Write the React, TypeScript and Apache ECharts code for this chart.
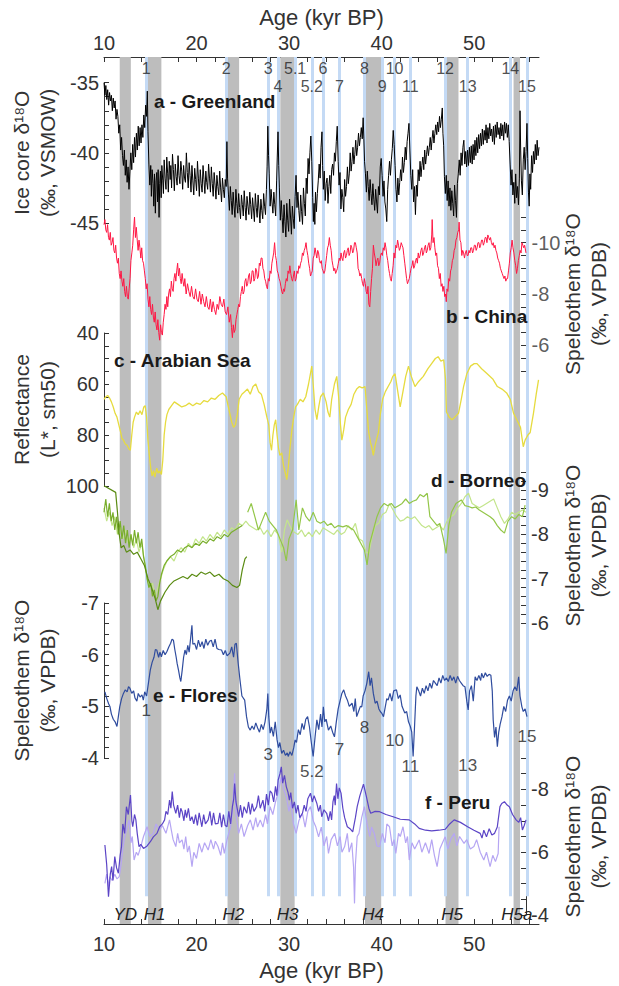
import { useEffect, useRef } from 'react';
import * as echarts from 'echarts';

const FONT = '"Liberation Sans", Arial, Helvetica, sans-serif';
const AGE_MIN = 10;
const AGE_MAX = 57;

// x-axis ticks / labels
const ageTicks = [10, 12, 14, 16, 18, 20, 22, 24, 26, 28, 30, 32, 34, 36, 38, 40, 42, 44, 46, 48, 50, 52, 54, 56];
const ageLabels = [10, 20, 30, 40, 50];

// Heinrich / YD bands
const bandNames = ['YD', 'H1', 'H2', 'H3', 'H4', 'H5', 'H5a'];
const bandFrom = [11.7, 14.75, 23.35, 29.05, 38.2, 46.9, 54.25];
const bandTo = [12.9, 16.2, 24.6, 30.6, 39.95, 48.3, 54.95];

// Greenland interstadial lines
const giNames = ['1', '2', '3', '4', '5.1', '5.2', '6', '7', '8', '9', '10', '11', '12', '13', '14', '15'];
const giAges = [14.55, 23.2, 27.75, 28.8, 30.65, 32.45, 33.65, 35.45, 38.15, 40.05, 41.4, 43.1, 46.85, 49.3, 53.9, 55.7];
const giRow = [0, 0, 0, 1, 0, 1, 0, 1, 0, 1, 0, 1, 0, 1, 0, 1];

// Flores annotations
const floresNoteNames = ['1', '3', '5.2', '7', '8', '10', '11', '13', '15'];
const floresNoteAges = [14.55, 27.75, 32.45, 35.45, 38.15, 41.4, 43.1, 49.3, 55.7];
const floresNoteVals = [-4.92, -4.06, -3.74, -4.16, -4.6, -4.33, -3.83, -3.86, -4.41];

// axis ticks
const greenlandTicks = [-45, -44, -43, -42, -41, -40, -39, -38, -37, -36, -35];
const greenlandLabels = [-45, -40, -35];
const chinaTicks = [-11, -10.5, -10, -9.5, -9, -8.5, -8, -7.5, -7, -6.5, -6, -5.5, -5];
const chinaLabels = [-10, -8, -6];
const arabTicks = [40, 45, 50, 55, 60, 65, 70, 75, 80, 85, 90, 95, 100];
const arabLabels = [40, 60, 80, 100];
const borneoTicks = [-9.4, -9.2, -9, -8.8, -8.6, -8.4, -8.2, -8, -7.8, -7.6, -7.4, -7.2, -7, -6.8, -6.6, -6.4, -6.2, -6];
const borneoLabels = [-9, -8, -7, -6];
const floresTicks = [-7, -6.8, -6.6, -6.4, -6.2, -6, -5.8, -5.6, -5.4, -5.2, -5, -4.8, -4.6, -4.4, -4.2, -4];
const floresLabels = [-7, -6, -5, -4];
const peruTicks = [-9, -8.5, -8, -7.5, -7, -6.5, -6, -5.5, -5, -4.5, -4];
const peruLabels = [-8, -6, -4];

const greenland: [number, number][] = [
  [10.0,-35.0],[10.1,-35.9],[10.2,-35.2],[10.3,-36.2],[10.4,-35.5],[10.5,-36.6],[10.6,-35.7],[10.7,-36.3],[10.8,-35.9],[10.9,-37.0],
  [11.0,-36.1],[11.1,-36.8],[11.2,-36.3],[11.3,-37.6],[11.4,-36.9],[11.5,-37.4],[11.6,-38.6],[11.7,-38.0],[11.8,-39.8],[11.9,-38.9],
  [12.0,-40.2],[12.1,-40.9],[12.2,-39.8],[12.3,-41.6],[12.4,-40.5],[12.5,-42.1],[12.6,-41.0],[12.7,-42.6],[12.8,-41.3],[12.9,-40.0],
  [13.0,-41.2],[13.1,-39.4],[13.2,-40.7],[13.3,-38.9],[13.4,-40.3],[13.5,-38.6],[13.6,-39.8],[13.7,-38.1],[13.8,-39.5],[13.9,-38.2],
  [14.0,-39.3],[14.1,-38.0],[14.2,-38.9],[14.3,-37.3],[14.4,-38.2],[14.5,-36.6],[14.6,-37.4],[14.68,-35.6],[14.75,-38.5],[14.85,-40.8],
  [14.95,-42.3],[15.05,-40.9],[15.12,-43.1],[15.2,-41.2],[15.3,-42.2],[15.38,-43.8],[15.45,-41.5],[15.55,-44.3],[15.62,-42.0],[15.7,-41.4],
  [15.78,-43.5],[15.85,-41.2],[15.95,-44.6],[16.02,-42.2],[16.1,-41.3],[16.18,-43.2],[16.25,-40.9],[16.35,-42.0],[16.42,-42.9],[16.5,-40.5],
  [16.6,-41.8],[16.7,-42.6],[16.78,-40.3],[16.88,-41.5],[16.95,-42.8],[17.05,-40.6],[17.15,-41.9],[17.22,-40.9],[17.3,-42.5],[17.4,-40.1],
  [17.5,-41.2],[17.6,-42.7],[17.7,-40.8],[17.8,-41.7],[17.9,-42.3],[18.0,-40.2],[18.1,-41.6],[18.2,-42.2],[18.3,-40.6],[18.4,-41.3],
  [18.5,-42.6],[18.6,-40.9],[18.7,-41.8],[18.8,-42.1],[18.9,-40.0],[19.0,-41.4],[19.1,-42.5],[19.2,-40.7],[19.3,-41.6],[19.4,-42.8],
  [19.5,-40.9],[19.6,-42.0],[19.7,-43.0],[19.8,-41.1],[19.9,-41.9],[20.0,-42.7],[20.1,-40.6],[20.2,-41.8],[20.3,-43.1],[20.4,-41.2],
  [20.5,-42.2],[20.6,-42.8],[20.7,-40.9],[20.8,-41.9],[20.9,-42.9],[21.0,-41.3],[21.1,-42.1],[21.2,-42.6],[21.3,-40.8],[21.4,-41.8],
  [21.5,-42.8],[21.6,-41.0],[21.7,-42.2],[21.8,-43.1],[21.9,-41.4],[22.0,-42.3],[22.1,-43.3],[22.2,-41.6],[22.3,-42.4],[22.4,-43.0],
  [22.5,-41.3],[22.6,-42.5],[22.7,-43.5],[22.8,-41.8],[22.9,-42.6],[23.0,-43.2],[23.1,-41.9],[23.2,-42.4],[23.28,-39.2],[23.35,-41.8],
  [23.45,-43.0],[23.55,-44.1],[23.65,-42.4],[23.75,-43.4],[23.85,-44.4],[23.95,-42.8],[24.05,-43.8],[24.15,-44.6],[24.25,-42.6],[24.35,-43.6],
  [24.45,-44.3],[24.55,-42.9],[24.65,-43.9],[24.75,-44.7],[24.85,-43.0],[24.95,-43.7],[25.05,-44.5],[25.15,-42.7],[25.25,-43.9],[25.35,-44.8],
  [25.45,-43.1],[25.55,-43.8],[25.65,-44.4],[25.75,-42.8],[25.85,-43.7],[25.95,-44.7],[26.05,-43.2],[26.15,-44.0],[26.25,-44.9],[26.35,-42.9],
  [26.45,-43.9],[26.55,-44.6],[26.65,-43.0],[26.75,-44.0],[26.85,-45.0],[26.95,-43.3],[27.05,-44.1],[27.15,-44.7],[27.25,-42.9],[27.35,-43.8],
  [27.45,-44.4],[27.55,-42.6],[27.62,-41.0],[27.7,-38.1],[27.78,-40.2],[27.85,-41.5],[27.95,-43.8],[28.05,-42.6],[28.15,-43.5],[28.25,-44.3],
  [28.35,-42.8],[28.45,-43.7],[28.55,-44.5],[28.65,-42.0],[28.72,-40.3],[28.8,-38.5],[28.88,-40.9],[28.95,-42.5],[29.05,-44.8],[29.15,-43.4],
  [29.25,-44.6],[29.35,-45.7],[29.45,-43.7],[29.55,-44.9],[29.65,-46.0],[29.75,-43.6],[29.85,-44.8],[29.95,-45.6],[30.05,-43.3],[30.15,-44.5],
  [30.25,-45.8],[30.35,-43.8],[30.45,-44.7],[30.55,-45.4],[30.65,-43.1],[30.75,-41.6],[30.85,-43.9],[30.95,-42.8],[31.05,-44.1],[31.15,-44.9],
  [31.25,-43.0],[31.35,-44.2],[31.45,-45.1],[31.55,-42.5],[31.65,-43.6],[31.75,-44.5],[31.85,-41.8],[31.95,-42.9],[32.05,-40.4],[32.15,-41.5],
  [32.25,-40.0],[32.35,-38.8],[32.45,-40.6],[32.55,-43.2],[32.62,-44.9],[32.7,-43.6],[32.78,-45.1],[32.85,-42.8],[32.95,-44.2],[33.05,-42.9],
  [33.15,-42.0],[33.25,-40.8],[33.35,-41.8],[33.45,-39.6],[33.55,-38.5],[33.62,-40.9],[33.7,-42.6],[33.8,-41.3],[33.9,-43.4],[34.0,-42.2],
  [34.1,-41.8],[34.2,-43.6],[34.3,-42.4],[34.4,-41.6],[34.5,-42.9],[34.6,-41.2],[34.7,-40.8],[34.8,-41.6],[34.9,-40.0],[35.0,-40.6],
  [35.1,-39.2],[35.2,-38.1],[35.3,-40.6],[35.4,-42.3],[35.5,-41.4],[35.6,-44.0],[35.7,-42.6],[35.8,-43.2],[35.9,-44.2],[36.0,-41.9],
  [36.1,-43.1],[36.2,-42.4],[36.3,-41.0],[36.4,-42.2],[36.5,-41.5],[36.6,-40.0],[36.7,-41.3],[36.8,-40.6],[36.9,-39.6],[37.0,-40.8],
  [37.1,-40.1],[37.2,-39.1],[37.3,-40.2],[37.4,-39.6],[37.5,-38.6],[37.6,-39.5],[37.7,-38.9],[37.8,-38.2],[37.9,-39.0],[38.0,-37.5],
  [38.08,-39.0],[38.15,-40.6],[38.25,-41.5],[38.35,-42.8],[38.45,-41.3],[38.55,-42.4],[38.65,-43.4],[38.75,-41.9],[38.85,-42.9],[38.95,-43.7],
  [39.05,-42.2],[39.15,-43.3],[39.25,-44.1],[39.35,-42.6],[39.45,-43.5],[39.55,-44.3],[39.65,-42.4],[39.75,-43.0],[39.85,-41.0],[39.95,-40.4],
  [40.05,-41.6],[40.15,-43.1],[40.25,-42.0],[40.35,-43.5],[40.45,-44.0],[40.55,-44.9],[40.65,-42.6],[40.75,-41.6],[40.85,-40.6],[40.95,-41.6],
  [41.05,-40.5],[41.15,-39.7],[41.25,-38.4],[41.35,-39.4],[41.45,-40.9],[41.55,-42.6],[41.65,-43.5],[41.75,-41.8],[41.85,-43.0],[41.95,-42.1],
  [42.05,-41.2],[42.15,-42.0],[42.25,-40.3],[42.35,-41.4],[42.45,-40.7],[42.55,-39.6],[42.65,-40.5],[42.75,-39.2],[42.85,-38.6],[42.95,-37.9],
  [43.05,-39.8],[43.15,-41.6],[43.25,-42.6],[43.35,-41.2],[43.45,-43.5],[43.55,-42.4],[43.65,-44.4],[43.75,-42.3],[43.85,-43.1],[43.95,-41.2],
  [44.05,-42.0],[44.15,-40.6],[44.25,-41.7],[44.35,-40.9],[44.45,-40.3],[44.55,-41.2],[44.65,-39.8],[44.75,-40.8],[44.85,-40.1],[44.95,-39.5],
  [45.05,-40.2],[45.15,-39.6],[45.25,-38.9],[45.35,-39.8],[45.45,-39.0],[45.55,-38.4],[45.65,-39.3],[45.75,-38.6],[45.85,-38.0],[45.95,-38.7],
  [46.05,-37.8],[46.15,-38.5],[46.25,-37.4],[46.35,-38.2],[46.45,-37.6],[46.55,-36.8],[46.62,-38.6],[46.7,-39.5],[46.78,-41.7],[46.88,-42.9],
  [46.98,-41.6],[47.08,-43.4],[47.18,-42.0],[47.28,-43.8],[47.38,-42.5],[47.48,-44.1],[47.58,-42.7],[47.68,-43.6],[47.78,-44.5],[47.88,-42.3],
  [47.98,-43.4],[48.08,-44.6],[48.18,-42.2],[48.28,-41.5],[48.38,-40.5],[48.48,-41.6],[48.58,-40.0],[48.68,-40.9],[48.78,-39.6],[48.88,-39.1],
  [48.98,-40.8],[49.08,-39.9],[49.18,-41.0],[49.28,-39.8],[49.38,-40.9],[49.48,-39.6],[49.58,-40.7],[49.68,-39.5],[49.78,-40.8],[49.88,-39.4],
  [49.98,-40.5],[50.08,-39.1],[50.18,-40.2],[50.28,-38.9],[50.38,-40.0],[50.48,-38.7],[50.58,-39.7],[50.68,-38.6],[50.78,-39.5],[50.88,-38.3],
  [50.98,-39.4],[51.08,-38.4],[51.18,-39.1],[51.28,-38.0],[51.38,-39.3],[51.48,-38.2],[51.58,-39.0],[51.68,-37.9],[51.78,-38.8],[51.88,-38.3],
  [51.98,-39.2],[52.08,-38.1],[52.18,-39.4],[52.28,-38.0],[52.38,-38.9],[52.48,-37.8],[52.58,-38.7],[52.68,-38.2],[52.78,-39.0],[52.88,-37.9],
  [52.98,-38.8],[53.08,-38.0],[53.18,-39.1],[53.28,-37.8],[53.38,-38.6],[53.48,-37.9],[53.58,-38.9],[53.68,-38.0],[53.78,-39.2],[53.88,-40.8],
  [53.98,-42.3],[54.08,-41.2],[54.18,-43.0],[54.28,-42.1],[54.38,-43.6],[54.48,-41.5],[54.58,-43.2],[54.68,-42.4],[54.78,-43.7],[54.88,-41.8],
  [54.95,-37.0],[55.02,-39.8],[55.1,-42.0],[55.2,-43.0],[55.3,-40.5],[55.4,-39.6],[55.5,-41.2],[55.6,-39.9],[55.7,-37.9],[55.78,-40.4],
  [55.86,-42.8],[55.94,-43.8],[56.02,-41.5],[56.1,-42.6],[56.2,-40.2],[56.3,-41.4],[56.4,-39.9],[56.5,-40.8],[56.6,-39.4],[56.7,-40.5],
  [56.8,-39.1],[56.9,-40.2],[57.0,-39.6]
];

const china: [number, number][] = [
  [10.0,-10.7],[10.1,-10.9],[10.2,-10.5],[10.3,-10.4],[10.4,-10.7],[10.5,-10.2],[10.6,-10.1],[10.7,-10.4],[10.8,-9.9],[10.9,-10.0],
  [11.0,-10.2],[11.1,-9.7],[11.2,-9.6],[11.3,-9.9],[11.4,-9.4],[11.5,-9.2],[11.6,-9.4],[11.7,-8.8],[11.8,-8.6],[11.9,-8.9],
  [12.0,-8.5],[12.1,-8.3],[12.2,-8.6],[12.3,-8.1],[12.4,-7.9],[12.5,-8.3],[12.6,-7.9],[12.7,-7.8],[12.8,-8.2],[12.9,-8.6],
  [13.0,-9.3],[13.1,-9.6],[13.2,-9.9],[13.3,-10.5],[13.4,-11.0],[13.5,-10.2],[13.6,-10.6],[13.7,-10.1],[13.8,-9.7],[13.9,-10.1],
  [14.0,-9.8],[14.1,-9.4],[14.2,-9.8],[14.3,-9.3],[14.4,-9.2],[14.5,-8.9],[14.6,-8.6],[14.7,-8.2],[14.8,-8.4],[14.9,-7.8],
  [15.0,-7.5],[15.1,-7.9],[15.2,-7.4],[15.3,-7.2],[15.4,-7.6],[15.5,-7.1],[15.6,-6.9],[15.7,-7.3],[15.8,-6.8],[15.9,-6.6],
  [16.0,-7.0],[16.1,-6.5],[16.2,-6.2],[16.3,-6.8],[16.4,-6.5],[16.5,-6.4],[16.6,-6.9],[16.7,-7.2],[16.8,-7.6],[16.9,-7.4],
  [17.0,-7.9],[17.1,-7.5],[17.2,-8.0],[17.3,-8.2],[17.4,-7.9],[17.5,-8.5],[17.6,-8.2],[17.7,-8.1],[17.8,-8.6],[17.9,-8.8],
  [18.0,-8.5],[18.1,-8.9],[18.2,-9.2],[18.3,-8.7],[18.4,-9.0],[18.5,-8.6],[18.6,-8.4],[18.7,-8.8],[18.8,-8.5],[18.9,-8.3],
  [19.0,-8.6],[19.15,-8.0],[19.3,-8.4],[19.45,-8.1],[19.6,-7.9],[19.75,-8.3],[19.9,-7.9],[20.05,-7.8],[20.2,-8.2],[20.35,-7.8],
  [20.5,-7.7],[20.65,-8.1],[20.8,-7.6],[20.95,-8.0],[21.1,-7.7],[21.25,-7.5],[21.4,-7.9],[21.55,-7.5],[21.7,-7.4],[21.85,-7.8],
  [22.0,-7.3],[22.15,-7.7],[22.3,-7.4],[22.45,-7.2],[22.6,-7.6],[22.75,-7.4],[22.9,-7.9],[23.05,-7.6],[23.2,-7.5],[23.35,-7.8],
  [23.5,-7.3],[23.65,-7.2],[23.8,-7.5],[23.95,-6.9],[24.1,-7.2],[24.2,-6.7],[24.3,-6.3],[24.4,-6.8],[24.5,-6.5],[24.6,-6.6],
  [24.7,-7.0],[24.8,-7.2],[24.9,-7.4],[25.0,-7.6],[25.1,-7.5],[25.2,-7.9],[25.3,-8.1],[25.4,-8.3],[25.5,-8.0],[25.6,-8.1],
  [25.7,-8.5],[25.8,-8.6],[25.9,-8.3],[26.0,-8.4],[26.1,-8.7],[26.2,-8.8],[26.3,-8.4],[26.4,-8.5],[26.5,-8.9],[26.6,-8.9],
  [26.7,-8.5],[26.8,-8.6],[26.9,-9.0],[27.0,-8.9],[27.1,-8.6],[27.2,-8.7],[27.3,-9.2],[27.4,-9.1],[27.5,-9.4],[27.6,-9.4],
  [27.7,-9.0],[27.8,-8.9],[27.9,-8.6],[28.0,-8.5],[28.1,-8.3],[28.2,-8.2],[28.3,-8.6],[28.4,-8.5],[28.5,-8.9],[28.6,-8.8],
  [28.7,-9.2],[28.8,-9.4],[28.9,-9.6],[29.0,-10.0],[29.1,-9.5],[29.2,-9.3],[29.3,-8.9],[29.4,-8.8],[29.5,-8.6],[29.6,-8.5],
  [29.7,-8.3],[29.8,-8.1],[29.9,-8.0],[30.0,-8.2],[30.1,-8.1],[30.2,-8.4],[30.3,-8.6],[30.4,-8.5],[30.5,-8.9],[30.6,-8.8],
  [30.7,-9.1],[30.8,-8.8],[30.9,-8.6],[31.0,-8.5],[31.1,-8.7],[31.2,-8.9],[31.3,-8.5],[31.4,-8.6],[31.5,-8.9],[31.6,-8.8],
  [31.7,-9.1],[31.8,-9.0],[31.9,-9.2],[32.0,-9.3],[32.1,-9.6],[32.2,-9.5],[32.3,-9.7],[32.4,-9.8],[32.5,-10.0],[32.6,-9.7],
  [32.7,-9.5],[32.8,-9.2],[32.9,-9.0],[33.0,-8.7],[33.1,-8.8],[33.2,-8.9],[33.3,-9.4],[33.4,-9.5],[33.5,-9.8],[33.6,-9.6],
  [33.7,-9.4],[33.8,-9.7],[33.9,-9.6],[34.0,-9.3],[34.1,-9.2],[34.2,-9.3],[34.3,-9.0],[34.4,-8.9],[34.5,-8.8],[34.6,-8.9],
  [34.7,-9.2],[34.8,-9.5],[34.9,-9.8],[35.0,-9.9],[35.1,-10.2],[35.2,-9.9],[35.3,-9.7],[35.4,-9.3],[35.5,-9.1],[35.6,-8.9],
  [35.7,-9.0],[35.8,-8.8],[35.9,-8.9],[36.0,-9.0],[36.1,-9.2],[36.2,-9.4],[36.3,-9.3],[36.4,-9.6],[36.5,-9.4],[36.6,-9.3],
  [36.7,-9.6],[36.8,-9.7],[36.9,-9.4],[37.0,-9.5],[37.1,-9.7],[37.2,-9.8],[37.3,-9.5],[37.4,-9.6],[37.5,-9.9],[37.6,-9.8],
  [37.7,-9.6],[37.8,-9.7],[37.9,-10.0],[38.0,-10.0],[38.1,-9.8],[38.2,-9.6],[38.3,-9.0],[38.4,-8.9],[38.5,-8.7],[38.6,-8.8],
  [38.7,-8.6],[38.8,-8.4],[38.9,-8.3],[39.0,-8.6],[39.1,-8.4],[39.2,-8.1],[39.3,-8.0],[39.4,-8.3],[39.5,-7.6],[39.6,-7.5],
  [39.7,-8.1],[39.8,-8.6],[39.9,-9.0],[40.0,-9.9],[40.1,-9.6],[40.2,-9.4],[40.3,-9.1],[40.4,-9.3],[40.5,-9.4],[40.6,-9.1],
  [40.7,-9.2],[40.8,-9.5],[40.9,-9.6],[41.0,-9.5],[41.1,-9.8],[41.2,-9.7],[41.3,-10.0],[41.4,-9.8],[41.5,-9.5],[41.6,-9.3],
  [41.7,-9.0],[41.8,-8.8],[41.9,-8.6],[42.0,-8.5],[42.1,-8.8],[42.2,-9.1],[42.3,-9.6],[42.4,-9.4],[42.5,-9.9],[42.6,-9.8],
  [42.7,-10.1],[42.8,-9.9],[42.9,-9.7],[43.0,-9.8],[43.1,-10.0],[43.2,-9.9],[43.3,-9.8],[43.4,-9.5],[43.5,-9.2],[43.6,-8.9],
  [43.7,-8.6],[43.8,-8.4],[43.9,-8.5],[44.0,-8.6],[44.1,-8.8],[44.2,-9.0],[44.3,-9.1],[44.4,-9.3],[44.5,-9.0],[44.6,-9.1],
  [44.7,-9.3],[44.8,-9.4],[44.9,-9.2],[45.0,-9.6],[45.1,-9.4],[45.2,-9.5],[45.3,-9.7],[45.4,-9.8],[45.5,-9.5],[45.6,-9.6],
  [45.7,-9.8],[45.8,-9.9],[45.9,-9.6],[46.0,-9.7],[46.1,-9.9],[46.2,-10.0],[46.3,-9.7],[46.4,-9.8],[46.5,-10.3],[46.55,-10.9],
  [46.65,-10.0],[46.75,-10.2],[46.85,-9.8],[46.95,-9.5],[47.05,-9.6],[47.15,-9.1],[47.25,-9.0],[47.35,-8.6],[47.45,-8.8],[47.55,-8.3],
  [47.65,-8.4],[47.75,-8.1],[47.85,-8.3],[47.95,-7.9],[48.05,-8.0],[48.12,-7.7],[48.2,-8.2],[48.3,-8.1],[48.4,-8.6],[48.5,-8.5],
  [48.6,-8.9],[48.7,-9.0],[48.8,-9.3],[48.9,-9.4],[49.0,-9.7],[49.1,-9.8],[49.2,-10.1],[49.3,-10.2],[49.4,-10.4],[49.5,-10.5],
  [49.55,-10.8],[49.65,-10.1],[49.75,-10.0],[49.85,-9.5],[49.95,-9.7],[50.05,-9.6],[50.15,-9.4],[50.25,-9.6],[50.35,-9.7],[50.45,-9.5],
  [50.55,-9.5],[50.65,-9.7],[50.75,-9.6],[50.85,-9.8],[50.95,-9.8],[51.05,-9.6],[51.15,-9.7],[51.25,-9.9],[51.35,-9.9],[51.45,-9.7],
  [51.55,-9.8],[51.65,-10.0],[51.75,-10.0],[51.85,-9.8],[51.95,-9.9],[52.05,-10.1],[52.15,-10.1],[52.25,-9.9],[52.35,-10.0],[52.45,-10.2],
  [52.55,-10.2],[52.65,-10.0],[52.75,-10.3],[52.85,-10.2],[52.95,-10.1],[53.05,-10.2],[53.15,-10.0],[53.25,-9.9],[53.35,-10.0],[53.45,-9.8],
  [53.55,-9.9],[53.65,-9.7],[53.75,-9.6],[53.85,-9.4],[53.95,-9.3],[54.05,-9.2],[54.15,-9.0],[54.25,-8.9],[54.35,-8.8],[54.45,-8.7],
  [54.55,-8.6],[54.65,-8.7],[54.75,-8.5],[54.85,-8.6],[54.95,-8.6],[55.05,-8.9],[55.15,-9.2],[55.25,-9.6],[55.35,-9.8],[55.45,-10.1],
  [55.55,-9.8],[55.65,-9.6],[55.75,-9.3],[55.85,-9.1],[55.95,-8.8],[56.05,-9.0],[56.15,-9.3],[56.25,-9.5],[56.35,-9.7],[56.45,-9.6],
  [56.55,-10.0],[56.65,-9.9],[56.75,-9.8],[56.85,-9.9],[57.0,-9.6]
];

const arabian: [number, number][] = [
  [10.0,66],[10.2,65],[10.4,64.5],[10.6,65.5],[10.8,67],[11.0,69],[11.2,71.5],[11.4,73],[11.6,76],[11.8,79],
  [11.95,81.5],[12.1,82],[12.3,83.5],[12.5,84],[12.7,85.5],[12.85,86],[13.0,80],[13.15,75],[13.3,73],[13.5,71],
  [13.7,72],[13.9,70.5],[14.1,72],[14.3,69],[14.45,68.5],[14.6,73],[14.75,82],[14.9,88],[15.05,93],[15.2,96],
  [15.35,94],[15.5,96.5],[15.7,93],[15.85,95],[16.0,94],[16.2,95.5],[16.35,90],[16.5,80],[16.65,75],[16.8,72],
  [17.0,70],[17.3,68.5],[17.6,67],[18.0,68],[18.4,69],[18.8,68.5],[19.2,67.5],[19.6,68.5],[20.0,67.5],[20.4,68],
  [20.8,66.5],[21.2,67],[21.6,65.5],[22.0,66],[22.4,64.5],[22.8,63.5],[23.2,65],[23.5,70],[23.8,75],[24.0,77],
  [24.2,76],[24.4,72],[24.6,66],[24.9,64],[25.2,63],[25.5,62],[25.8,64],[26.1,61],[26.4,60],[26.7,63],
  [27.0,64],[27.3,68],[27.6,73],[27.8,76],[27.95,83],[28.1,86],[28.25,80],[28.4,76],[28.55,74],[28.7,80],
  [28.85,85],[29.0,88],[29.2,87],[29.4,92],[29.6,95],[29.75,97.5],[29.9,93],[30.1,85],[30.3,78],[30.5,73],
  [30.7,69],[30.9,68],[31.2,66],[31.5,67],[31.8,65],[32.1,60],[32.3,56],[32.45,53],[32.6,60],[32.8,70],
  [33.0,74],[33.2,69],[33.4,65],[33.7,63.5],[34.0,67],[34.2,71],[34.4,73],[34.6,66],[34.9,60],[35.15,57],
  [35.35,65],[35.55,76],[35.7,82],[35.9,78],[36.1,73],[36.4,70],[36.7,68],[37.0,64],[37.3,62],[37.6,61],
  [37.9,61.5],[38.2,61],[38.4,70],[38.6,79],[38.8,83],[38.95,85],[39.1,88],[39.3,84],[39.5,81],[39.65,79],
  [39.85,72],[40.1,66],[40.4,63],[40.7,61],[41.0,59],[41.2,57],[41.45,56],[41.7,62],[42.0,69],[42.3,63],
  [42.6,57],[42.9,53],[43.2,57],[43.6,61],[44.0,59],[44.5,57],[45.0,54],[45.4,52],[45.8,50],[46.1,49.3],
  [46.4,51],[46.7,50.5],[46.9,58],[47.0,71],[47.3,73],[47.6,74],[47.9,73],[48.3,71.5],[48.6,66],[48.85,61],
  [49.2,56],[49.6,53],[50.0,52],[50.3,52],[50.8,54],[51.4,56],[52.0,58],[52.5,61],[53.0,62],[53.5,63.5],
  [53.9,66],[54.25,71.5],[54.6,74],[55.0,77],[55.3,84.6],[55.5,82],[55.8,80],[56.05,79],[56.4,71.5],[56.7,64],[56.95,58.4]
];

const borneoDark: [number, number][] = [
  [10.0,-9.1],[11.3,-8.95],[11.5,-8.5],[11.7,-8.0],[11.9,-7.7],[12.2,-7.75],[12.5,-7.6],[12.9,-7.65],[13.3,-7.55],[13.7,-7.6],
  [14.1,-7.45],[14.5,-7.3],[14.9,-7.0],[15.3,-6.8],[15.7,-6.55],[16.0,-6.3],[16.3,-6.5],[16.8,-6.7],[17.3,-6.85],[17.8,-6.95],
  [18.3,-7.0],[18.8,-7.05],[19.3,-7.0],[19.8,-7.1],[20.3,-7.05],[20.8,-7.15],[21.3,-7.1],[21.8,-7.15],[22.3,-7.05],[22.8,-7.1],
  [23.3,-7.0],[23.8,-6.95],[24.3,-6.85],[24.8,-6.8],[25.1,-6.85],[25.4,-7.2],[25.7,-7.45],[25.9,-7.5]
];

const borneoMid: [number, number][] = [
  [10.0,-8.5],[10.2,-8.8],[10.4,-8.4],[10.6,-8.7],[10.8,-8.3],[11.0,-8.5],[11.2,-8.1],[11.4,-8.4],[11.6,-8.0],[11.8,-8.3],
  [12.0,-7.9],[12.2,-8.2],[12.4,-7.8],[12.6,-8.1],[12.8,-7.7],[13.0,-8.0],[13.2,-7.75],[13.4,-8.1],[13.6,-7.8],[13.8,-8.05],
  [14.0,-7.7],[14.2,-7.9],[14.4,-7.5],[14.6,-7.3],[14.8,-7.0],[15.0,-6.8],[15.2,-6.9],[15.4,-6.6],[15.6,-6.75],[15.8,-6.5],
  [16.0,-6.6],[16.2,-6.9],[16.4,-7.1],[16.7,-7.3],[17.0,-7.4],[17.4,-7.5],[17.8,-7.55],[18.2,-7.65],[18.6,-7.6],[19.0,-7.7],
  [19.4,-7.75],[19.8,-7.7],[20.2,-7.8],[20.6,-7.75],[21.0,-7.85],[21.4,-7.8],[21.8,-7.9],[22.2,-7.85],[22.6,-7.95],[23.0,-7.9],
  [23.4,-8.0],[23.8,-7.95],[24.2,-8.05],[24.6,-8.1],[25.0,-8.15],[25.4,-8.2]
];

const borneoLight: [number, number][] = [
  [10.0,-8.6],[10.3,-8.3],[10.6,-8.5],[10.9,-8.2],[11.2,-8.4],[11.5,-8.0],[11.8,-8.2],[12.1,-7.9],[12.4,-8.1],[12.7,-7.8],
  [13.0,-8.0],[13.3,-7.7],[13.6,-7.9],[13.9,-7.6],[14.2,-7.8],[14.5,-7.4],[14.8,-7.0],[15.1,-6.8],[15.4,-6.9],[15.7,-6.6],
  [16.0,-6.8],[16.3,-7.0],[16.6,-7.2],[17.0,-7.4],[17.4,-7.5],[17.8,-7.4],[18.2,-7.6],[18.6,-7.7],[19.0,-7.6],[19.4,-7.8],
  [19.8,-7.7],[20.2,-7.9],[20.6,-7.8],[21.0,-7.95],[21.4,-7.85],[21.8,-8.0],[22.2,-7.9],[22.6,-8.05],[23.0,-7.95],[23.4,-8.1],
  [23.8,-8.0],[24.2,-8.15],[24.6,-8.1],[25.0,-8.25],[25.4,-8.2],[25.8,-8.3],[26.2,-8.2],[26.6,-8.15],[27.0,-8.1],[27.4,-8.15],
  [27.8,-8.0],[28.2,-8.1],[28.6,-7.95],[29.0,-8.1],[29.4,-8.0],[29.8,-7.6],[30.1,-8.1],[30.4,-8.33],[30.8,-8.15],[31.2,-8.05],
  [31.6,-8.0],[32.0,-8.1],[32.4,-7.95],[32.8,-8.05],[33.2,-7.95],[33.6,-8.1],[34.0,-8.0],[34.4,-8.15],[34.8,-8.1],[35.2,-8.05],
  [35.6,-8.0],[36.0,-8.1],[36.4,-8.0],[36.8,-8.05],[37.2,-8.2],[37.6,-8.1],[38.0,-8.25],[38.4,-7.9],[38.8,-7.85],[39.2,-7.6],
  [39.5,-7.57],[39.8,-7.9],[40.2,-8.2],[40.6,-8.25],[41.0,-8.45],[41.4,-8.5],[41.8,-8.7],[42.2,-8.55],[42.6,-8.4],[43.0,-8.3],
  [43.4,-8.33],[43.8,-8.4],[44.2,-8.35],[44.6,-8.4],[45.0,-8.3],[45.4,-8.2],[45.8,-8.15],[46.2,-8.2],[46.6,-8.1],[47.0,-8.15],
  [47.4,-8.2],[47.8,-8.1],[48.2,-8.3],[48.6,-8.4],[49.0,-8.45],[49.4,-8.6],[49.8,-8.7],[50.2,-8.85],[50.6,-8.93],[51.0,-8.7],
  [51.4,-8.65],[51.8,-8.6],[52.2,-8.65],[52.6,-8.7],[53.0,-8.75],[53.4,-8.8],[53.8,-8.6],[54.2,-8.4],[54.6,-8.25],[55.0,-8.35],
  [55.4,-8.5],[55.8,-8.45],[56.2,-8.5],[56.6,-8.55],[57.0,-8.5]
];

const borneoLime: [number, number][] = [
  [26.0,-8.5],[26.4,-8.7],[26.8,-8.4],[27.2,-8.1],[27.6,-8.3],[28.0,-8.5],[28.4,-8.3],[28.8,-8.2],[29.2,-8.1],[29.6,-7.9],
  [30.0,-7.7],[30.3,-7.4],[30.6,-7.9],[31.0,-8.1],[31.4,-8.78],[31.7,-8.1],[32.1,-8.6],[32.5,-8.4],[32.9,-8.3],[33.3,-8.5],
  [33.7,-8.3],[34.1,-8.25],[34.5,-8.3],[34.9,-8.2],[35.3,-8.25],[35.7,-8.15],[36.1,-8.2],[36.6,-8.17],[37.0,-8.2],[37.4,-8.15],
  [37.8,-8.1],[38.2,-7.95],[38.6,-7.8],[39.0,-7.65],[39.3,-7.31],[39.6,-7.8],[40.0,-8.1],[40.4,-8.4],[40.8,-8.6],[41.2,-8.7],
  [41.6,-8.65],[42.0,-8.7],[42.4,-8.6],[42.8,-8.65],[43.2,-8.7],[43.6,-8.8],[44.0,-8.7],[44.4,-8.75],[44.8,-8.78],[45.2,-8.9],
  [45.6,-8.85],[46.0,-8.93],[46.3,-8.4],[46.7,-8.3],[47.1,-8.2],[47.4,-8.25],[47.8,-7.9],[48.1,-7.57],[48.4,-8.2],[48.7,-8.5],
  [49.2,-8.7],[49.8,-8.78],[50.2,-8.65],[50.6,-8.63],[51.0,-8.6],[51.4,-8.62],[51.8,-8.55],[52.2,-8.5],[52.6,-8.45],[53.0,-8.4],
  [53.4,-8.33],[53.8,-8.2],[54.2,-8.1],[54.6,-8.03],[55.0,-8.3],[55.4,-8.4],[55.8,-8.35],[56.2,-8.45],[56.6,-8.4],[56.9,-8.66]
];

const flores: [number, number][] = [
  [10.1,-5.28],[10.3,-5.15],[10.5,-5.05],[10.65,-4.99],[10.8,-4.85],[11.0,-4.75],[11.2,-4.7],[11.4,-4.61],[11.55,-4.8],[11.7,-4.99],
  [11.9,-5.15],[12.1,-5.25],[12.3,-5.32],[12.5,-5.28],[12.65,-5.38],[12.8,-5.35],[13.0,-5.25],[13.2,-5.3],[13.35,-5.16],[13.55,-5.1],
  [13.7,-5.25],[13.9,-5.18],[14.1,-5.22],[14.25,-5.12],[14.4,-5.28],[14.6,-5.2],[14.8,-5.45],[15.0,-5.7],[15.2,-5.85],[15.4,-5.95],
  [15.55,-6.1],[15.7,-6.09],[15.9,-5.95],[16.05,-6.05],[16.2,-5.96],[16.4,-6.08],[16.6,-6.0],[16.8,-6.06],[17.0,-6.15],[17.2,-6.22],
  [17.35,-6.3],[17.5,-6.28],[17.65,-6.1],[17.8,-5.95],[17.9,-5.83],[18.05,-5.7],[18.2,-5.55],[18.3,-5.48],[18.45,-5.7],[18.6,-5.95],
  [18.75,-6.09],[18.9,-6.0],[19.05,-6.18],[19.2,-6.05],[19.35,-6.3],[19.5,-6.57],[19.6,-6.2],[19.8,-6.22],[20.0,-6.1],[20.2,-6.28],
  [20.4,-6.15],[20.6,-6.25],[20.8,-6.12],[21.0,-6.3],[21.2,-6.18],[21.4,-6.26],[21.6,-6.28],[21.8,-6.15],[22.0,-6.3],[22.2,-6.12],
  [22.4,-6.1],[22.7,-6.09],[22.9,-6.0],[23.1,-6.08],[23.3,-5.98],[23.6,-6.03],[23.8,-6.15],[24.0,-5.95],[24.15,-6.2],[24.3,-6.22],
  [24.5,-5.83],[24.7,-5.5],[24.9,-5.2],[25.2,-5.12],[25.4,-4.8],[25.6,-4.6],[25.8,-4.54],[26.0,-4.62],[26.2,-4.55],[26.4,-4.68],
  [26.6,-4.58],[26.8,-4.5],[27.0,-4.65],[27.2,-4.55],[27.4,-4.7],[27.6,-4.95],[27.7,-5.25],[27.8,-4.8],[27.95,-4.48],[28.1,-4.6],
  [28.3,-4.42],[28.5,-4.7],[28.7,-4.35],[28.85,-4.2],[29.0,-4.3],[29.2,-4.09],[29.4,-4.15],[29.6,-4.05],[29.8,-4.1],[29.9,-4.03],
  [30.1,-4.12],[30.3,-4.05],[30.5,-4.2],[30.65,-4.35],[30.8,-4.3],[31.0,-4.55],[31.2,-4.45],[31.4,-4.67],[31.6,-4.55],[31.8,-4.75],
  [32.0,-4.8],[32.2,-4.6],[32.4,-4.3],[32.6,-4.03],[32.8,-4.4],[33.0,-4.74],[33.2,-4.55],[33.4,-4.85],[33.55,-4.6],[33.7,-4.99],
  [33.85,-4.7],[34.0,-4.75],[34.25,-4.54],[34.5,-4.62],[34.7,-4.5],[34.9,-4.41],[35.1,-4.7],[35.3,-4.95],[35.5,-5.1],[35.7,-5.25],
  [35.9,-5.32],[36.1,-5.2],[36.3,-5.12],[36.5,-5.0],[36.8,-5.06],[37.0,-4.9],[37.15,-5.15],[37.3,-4.8],[37.5,-4.9],[37.7,-5.0],
  [37.85,-4.99],[38.0,-5.2],[38.2,-5.3],[38.4,-5.45],[38.6,-5.67],[38.75,-5.4],[38.9,-5.55],[39.1,-5.25],[39.3,-5.06],[39.5,-5.1],
  [39.7,-4.95],[39.85,-4.9],[40.0,-4.87],[40.2,-4.8],[40.4,-5.0],[40.55,-5.15],[40.7,-5.12],[40.9,-5.25],[41.1,-5.1],[41.3,-5.3],
  [41.6,-5.32],[41.8,-5.15],[42.0,-5.22],[42.2,-5.0],[42.5,-4.87],[42.7,-4.9],[42.9,-4.7],[43.1,-4.61],[43.25,-4.5],[43.4,-4.03],
  [43.55,-4.6],[43.7,-5.2],[43.8,-5.38],[44.0,-5.3],[44.2,-5.2],[44.4,-5.35],[44.6,-5.25],[44.8,-5.4],[45.0,-5.3],[45.2,-5.45],
  [45.4,-5.35],[45.6,-5.5],[45.8,-5.45],[46.0,-5.4],[46.2,-5.55],[46.4,-5.45],[46.6,-5.6],[46.8,-5.5],[47.0,-5.55],[47.2,-5.48],
  [47.4,-5.6],[47.6,-5.5],[47.8,-5.57],[48.0,-5.45],[48.2,-5.58],[48.4,-5.5],[48.6,-5.45],[48.8,-5.4],[49.0,-5.38],[49.2,-5.1],
  [49.35,-4.93],[49.5,-5.3],[49.7,-5.4],[49.9,-5.1],[50.1,-5.57],[50.3,-5.5],[50.5,-5.6],[50.7,-5.5],[50.8,-5.64],[51.0,-5.55],
  [51.2,-5.65],[51.4,-5.58],[51.6,-5.62],[51.8,-5.6],[51.95,-5.3],[52.05,-4.74],[52.2,-4.4],[52.35,-4.6],[52.5,-4.22],[52.65,-4.5],
  [52.8,-4.65],[53.0,-4.8],[53.2,-5.0],[53.4,-4.9],[53.6,-5.12],[53.8,-5.2],[54.0,-5.1],[54.2,-5.3],[54.4,-5.38],[54.6,-5.3],
  [54.8,-5.57],[54.95,-5.2],[55.15,-4.99],[55.3,-4.9],[55.5,-4.95],[55.7,-4.8]
];

const peruDark: [number, number][] = [
  [10.1,-6.23],[10.3,-5.6],[10.5,-4.58],[10.7,-5.3],[10.85,-5.54],[11.0,-5.1],[11.2,-5.86],[11.4,-5.5],[11.6,-5.33],[11.8,-5.9],
  [11.95,-6.18],[12.1,-6.9],[12.3,-6.6],[12.5,-7.45],[12.7,-7.2],[12.95,-7.82],[13.1,-7.0],[13.2,-6.81],[13.4,-7.2],[13.55,-7.03],
  [13.7,-6.6],[13.9,-6.18],[14.1,-6.25],[14.4,-6.12],[14.8,-6.2],[15.2,-6.35],[15.5,-6.49],[15.9,-6.6],[16.2,-6.81],[16.5,-6.9],
  [16.75,-7.03],[16.9,-7.3],[17.1,-7.2],[17.3,-7.66],[17.45,-7.4],[17.6,-7.93],[17.75,-7.5],[18.0,-7.24],[18.2,-7.5],[18.4,-7.1],
  [18.55,-7.4],[18.7,-7.29],[18.9,-7.0],[19.05,-7.35],[19.2,-7.1],[19.4,-7.4],[19.6,-7.0],[19.8,-7.13],[20.0,-6.9],[20.2,-7.2],
  [20.4,-6.85],[20.6,-7.25],[20.9,-6.81],[21.1,-7.2],[21.3,-6.9],[21.6,-7.03],[21.8,-7.3],[22.0,-6.85],[22.2,-7.25],[22.4,-6.9],
  [22.7,-6.92],[22.9,-7.25],[23.1,-6.8],[23.3,-7.2],[23.5,-6.85],[23.7,-6.81],[23.9,-7.3],[24.1,-6.9],[24.3,-7.45],[24.45,-7.7],
  [24.55,-8.19],[24.7,-7.6],[25.0,-7.13],[25.2,-7.5],[25.4,-7.1],[25.6,-7.45],[25.9,-7.24],[26.1,-7.6],[26.3,-7.2],[26.5,-7.55],
  [26.7,-7.3],[27.0,-7.45],[27.2,-7.8],[27.4,-7.4],[27.7,-7.66],[27.9,-7.3],[28.1,-7.85],[28.3,-7.5],[28.5,-7.95],[28.7,-7.88],
  [28.9,-7.6],[29.1,-8.1],[29.25,-7.8],[29.4,-8.3],[29.6,-8.5],[29.75,-8.72],[29.9,-8.2],[30.1,-8.45],[30.3,-8.09],[30.5,-7.9],
  [30.65,-7.66],[30.8,-7.9],[31.0,-7.4],[31.2,-7.6],[31.4,-7.24],[31.6,-7.5],[31.8,-7.1],[32.1,-7.24],[32.3,-7.5],[32.5,-7.3],
  [32.7,-7.7],[33.0,-7.88],[33.2,-7.6],[33.4,-7.8],[33.7,-7.56],[33.9,-7.3],[34.1,-7.5],[34.25,-7.13],[34.5,-7.35],[34.8,-7.24],
  [35.0,-7.0],[35.2,-7.3],[35.35,-7.03],[35.5,-7.6],[35.65,-7.8],[35.75,-7.5],[35.9,-8.19],[36.05,-7.7],[36.2,-8.05],[36.4,-7.88],
  [36.6,-7.4],[36.8,-7.1],[37.1,-6.81],[37.4,-6.75],[37.7,-6.65],[38.0,-7.1],[38.2,-7.45],[38.5,-7.8],[38.9,-8.17],[39.2,-7.8],
  [39.5,-7.4],[39.7,-7.24],[40.2,-7.3],[40.7,-7.29],[41.4,-7.2],[42.2,-7.13],[43.0,-7.05],[44.0,-7.03],[44.6,-6.9],[45.1,-6.76],
  [45.8,-6.7],[46.5,-6.68],[47.3,-6.7],[48.0,-6.73],[48.5,-6.9],[49.0,-7.03],[49.7,-6.95],[50.5,-6.81],[51.2,-6.7],[51.9,-6.6],
  [52.1,-6.45],[52.3,-6.7],[52.6,-6.49],[52.9,-6.75],[53.2,-6.55],[53.5,-6.6],[53.8,-6.8],[54.1,-7.45],[54.3,-7.55],[54.6,-7.61],
  [54.9,-7.5],[55.15,-7.45],[55.5,-7.2],[55.9,-7.03],[56.2,-6.95],[56.4,-7.1],[56.6,-6.71],[56.8,-6.85],[57.0,-7.03]
];

const peruLight: [number, number][] = [
  [10.1,-5.01],[10.3,-5.3],[10.5,-4.9],[10.65,-5.22],[10.9,-5.1],[11.2,-5.3],[11.45,-5.15],[11.7,-5.22],[11.9,-5.6],[12.05,-6.0],
  [12.25,-6.39],[12.5,-6.7],[12.8,-7.03],[13.0,-6.3],[13.15,-6.5],[13.35,-5.75],[13.6,-6.0],[13.8,-5.9],[14.1,-6.18],[14.4,-6.5],
  [14.8,-6.81],[15.1,-6.5],[15.5,-6.6],[15.8,-6.9],[16.2,-6.71],[16.5,-6.85],[16.9,-6.6],[17.3,-7.03],[17.5,-6.7],[17.7,-6.4],
  [18.0,-6.18],[18.2,-6.6],[18.4,-6.3],[18.7,-6.39],[18.9,-6.1],[19.1,-6.5],[19.3,-6.0],[19.5,-6.2],[19.8,-5.54],[20.0,-6.0],
  [20.3,-5.8],[20.6,-6.28],[20.9,-6.0],[21.2,-6.3],[21.6,-6.07],[21.9,-6.4],[22.2,-6.1],[22.4,-6.35],[22.7,-6.18],[23.0,-5.9],
  [23.2,-6.3],[23.4,-5.96],[23.7,-6.4],[24.1,-6.81],[24.3,-7.3],[24.55,-8.51],[24.7,-7.2],[25.0,-6.6],[25.3,-6.9],[25.6,-6.5],
  [26.0,-6.85],[26.3,-7.03],[26.6,-6.7],[26.9,-7.1],[27.1,-6.8],[27.4,-7.03],[27.7,-6.8],[28.0,-7.2],[28.2,-6.9],[28.5,-7.45],
  [28.8,-7.2],[29.1,-7.6],[29.4,-7.9],[29.75,-8.4],[30.0,-8.0],[30.3,-7.77],[30.6,-7.3],[30.8,-7.6],[31.1,-6.9],[31.4,-6.6],
  [31.7,-7.0],[32.1,-7.24],[32.4,-6.8],[32.7,-7.3],[33.0,-7.45],[33.3,-7.0],[33.6,-6.8],[33.9,-6.49],[34.2,-6.8],[34.5,-6.2],
  [34.8,-6.5],[35.0,-5.96],[35.3,-6.4],[35.7,-6.6],[36.0,-6.2],[36.3,-6.5],[36.5,-6.0],[36.8,-6.18],[37.1,-6.6],[37.3,-6.0],
  [37.6,-6.3],[37.8,-5.5],[37.9,-4.37],[38.0,-5.6],[38.2,-6.5],[38.4,-6.6],[38.7,-7.1],[39.0,-7.45],[39.3,-6.9],[39.6,-6.5],
  [39.8,-6.8],[40.1,-6.6],[40.4,-6.2],[40.7,-6.18],[41.0,-6.6],[41.3,-6.3],[41.5,-6.9],[41.8,-6.81],[42.1,-6.2],[42.3,-6.4],
  [42.5,-5.96],[42.8,-6.6],[43.0,-6.5],[43.3,-6.81],[43.6,-6.3],[43.8,-6.5],[44.0,-5.75],[44.3,-6.3],[44.6,-6.1],[45.1,-6.39],
  [45.4,-6.0],[45.8,-6.3],[46.2,-5.96],[46.5,-6.4],[46.8,-5.9],[47.1,-5.54],[47.4,-6.1],[47.7,-6.3],[48.0,-6.49],[48.3,-6.1],
  [48.6,-6.4],[49.0,-6.6],[49.3,-6.2],[49.6,-6.5],[50.1,-6.28],[50.4,-6.4],[50.8,-6.1],[51.2,-6.18],[51.5,-6.4],[51.9,-6.0],
  [52.3,-5.75],[52.6,-6.0],[53.0,-5.54],[53.3,-5.9],[53.6,-5.7],[53.9,-5.96],[54.0,-6.81]
];

const LEFT = 104;
const RIGHT = 80;
const AXC = '#333';
const TXT = '#333';

function panelY(grid: number, pos: 'left' | 'right', min: number, max: number, inverse: boolean, ticks: number[], labels: number[], name: string, nameGap: number, showLabels = true) {
  return {
    type: 'value', gridIndex: grid, position: pos, min, max, inverse,
    axisLine: { show: true, onZero: false, lineStyle: { color: AXC, width: 1 } },
    axisTick: { show: true, inside: true, length: 5, customValues: ticks, lineStyle: { color: AXC, width: 1 } },
    axisLabel: { show: showLabels, customValues: labels, fontSize: 20, color: TXT, fontFamily: FONT, margin: 5, formatter: (v: number) => String(v) },
    splitLine: { show: false },
    name, nameLocation: 'middle', nameRotate: 90, nameGap, nameMoveOverlap: false,
    nameTextStyle: { fontSize: 21, color: TXT, fontFamily: FONT, lineHeight: 26, align: 'center' },
  };
}

function lineSeries(xi: number, yi: number, data: [number, number][], color: string, width = 1) {
  return {
    type: 'line', xAxisIndex: xi, yAxisIndex: yi, data, showSymbol: false, symbol: 'none', clip: false,
    lineStyle: { color, width }, z: 5, silent: true, animation: false,
  };
}

export default function App() {
  const ref = useRef<HTMLDivElement>(null);
  useEffect(() => {
    if (!ref.current) return;
    const chart = echarts.init(ref.current, null, { renderer: 'svg' });
    const grids = [
      { left: LEFT, right: RIGHT, top: 57, height: 874 },
      { left: LEFT, right: RIGHT, top: 82.7, height: 140.3 },
      { left: LEFT, right: RIGHT, top: 217, height: 154 },
      { left: LEFT, right: RIGHT, top: 333, height: 153 },
      { left: LEFT, right: RIGHT, top: 468, height: 155 },
      { left: LEFT, right: RIGHT, top: 603, height: 155 },
      { left: LEFT, right: RIGHT, top: 758, height: 157 },
    ];
    const frameX = (pos: 'top' | 'bottom') => ({
      type: 'value', gridIndex: 0, position: pos, min: AGE_MIN, max: AGE_MAX,
      axisLine: { show: true, onZero: false, lineStyle: { color: AXC, width: 1 } },
      axisTick: { show: true, inside: true, length: 5, customValues: ageTicks, lineStyle: { color: AXC } },
      axisLabel: { show: true, customValues: ageLabels, fontSize: 20, color: TXT, fontFamily: FONT, margin: pos === 'top' ? 4 : 10 },
      splitLine: { show: false },
      name: 'Age (kyr BP)', nameLocation: 'middle', nameGap: pos === 'top' ? 27 : 35,
      nameTextStyle: { fontSize: 22, color: TXT, fontFamily: FONT },
    });
    const xAxes: any[] = [frameX('bottom'), frameX('top')];
    for (let g = 1; g <= 6; g++) {
      xAxes.push({ type: 'value', gridIndex: g, min: AGE_MIN, max: AGE_MAX, show: false });
    }
    const yAxes: any[] = [
      { type: 'value', gridIndex: 0, min: 0, max: 1, show: false },
      panelY(1, 'left', -45, -35, false, greenlandTicks, greenlandLabels, 'Ice core δ¹⁸O\n(‰, VSMOW)', 44),
      panelY(2, 'right', -11, -5, true, chinaTicks, chinaLabels, 'Speleothem δ¹⁸O\n(‰, VPDB)', 33, false),
      panelY(3, 'left', 40, 100, true, arabTicks, arabLabels, 'Reflectance\n(L*, sm50)', 44),
      panelY(4, 'right', -9.5, -6, true, borneoTicks, borneoLabels, 'Speleothem δ¹⁸O\n(‰, VPDB)', 33),
      panelY(5, 'left', -7, -4, true, floresTicks, floresLabels, 'Speleothem δ¹⁸O\n(‰, VPDB)', 44),
      panelY(6, 'right', -9, -4, true, peruTicks, peruLabels, 'Speleothem δ¹⁸O\n(‰, VPDB)', 33),
    ];

    const series: any[] = [
      {
        type: 'line', xAxisIndex: 0, yAxisIndex: 0, data: [[AGE_MIN, -1]], symbol: 'none', lineStyle: { opacity: 0 }, z: 1, silent: true,
        markLine: {
          silent: true, symbol: ['none', 'none'], animation: false,
          lineStyle: { color: '#c4daf5', width: 3, type: 'solid' },
          label: { show: false },
          data: giAges.map((a) => [{ coord: [a, 0.032] }, { coord: [a, 1] }]),
        },
      },
      {
        type: 'line', xAxisIndex: 0, yAxisIndex: 0, data: [[AGE_MIN, -1]], symbol: 'none', lineStyle: { opacity: 0 }, z: 2, silent: true,
        markArea: {
          silent: true, animation: false,
          itemStyle: { color: '#bdbdbd' },
          label: { show: true, position: 'insideBottom', distance: 1, fontSize: 17, fontStyle: 'italic', color: '#222', fontFamily: FONT },
          data: bandNames.map((n, i) => [{ name: n, xAxis: bandFrom[i] }, { xAxis: bandTo[i] }]),
        },
      },
      {
        type: 'scatter', xAxisIndex: 0, yAxisIndex: 0, z: 6, silent: true, symbolSize: 1, clip: false,
        itemStyle: { color: 'rgba(0,0,0,0)' },
        data: giNames.map((n, i) => [giAges[i], giRow[i] === 0 ? 0.9865 : 0.966, n]),
        label: { show: true, position: 'inside', formatter: (p: any) => p.value[2], fontSize: 16, color: '#222', fontFamily: FONT },
      },
      lineSeries(2, 1, greenland, '#000000', 1),
      lineSeries(3, 2, china, '#ff1744', 1),
      lineSeries(4, 3, arabian, '#e6db3f', 1.3),
      lineSeries(5, 4, borneoLight, '#c3e58b', 1.2),
      lineSeries(5, 4, borneoLime, '#93c648', 1.2),
      lineSeries(5, 4, borneoMid, '#79ae2c', 1.2),
      lineSeries(5, 4, borneoDark, '#5a8b12', 1.2),
      lineSeries(6, 5, flores, '#2f4c9e', 1.2),
      lineSeries(7, 6, peruLight, '#b6a6f3', 1.2),
      lineSeries(7, 6, peruDark, '#5b44c6', 1.2),
      {
        type: 'scatter', xAxisIndex: 6, yAxisIndex: 5, z: 6, silent: true, symbolSize: 1, clip: false,
        itemStyle: { color: 'rgba(0,0,0,0)' },
        data: floresNoteNames.map((n, i) => [floresNoteAges[i], floresNoteVals[i], n]),
        label: { show: true, position: 'inside', formatter: (p: any) => p.value[2], fontSize: 17, color: '#222', fontFamily: FONT },
      },
      {
        // tick labels of the China axis
        type: 'scatter', xAxisIndex: 3, yAxisIndex: 2, z: 6, silent: true, symbolSize: 1, clip: false,
        itemStyle: { color: 'rgba(0,0,0,0)' },
        data: chinaLabels.map((v) => [AGE_MAX, v, String(v)]),
        label: { show: true, position: 'right', distance: 5, formatter: (p: any) => p.value[2], fontSize: 20, color: TXT, fontFamily: FONT },
      },
    ];

    const panelLabel = (text: string, x: number, y: number) => ({
      type: 'text', left: x, top: y, z: 10, silent: true,
      style: { text, fontSize: 19, fontWeight: 'bold', fill: '#1a1a1a', fontFamily: FONT },
    });

    chart.setOption({
      animation: false,
      backgroundColor: '#ffffff',
      grid: grids,
      xAxis: xAxes,
      yAxis: yAxes,
      series,
      graphic: [
        panelLabel('a - Greenland', 154, 92),
        panelLabel('b - China', 446, 307),
        panelLabel('c - Arabian Sea', 114, 351),
        panelLabel('d - Borneo', 431, 471),
        panelLabel('e - Flores', 153, 686),
        panelLabel('f - Peru', 425, 793),
      ],
    });
    return () => chart.dispose();
  }, []);
  return <div ref={ref} style={{ position: 'absolute', left: 0, top: 0, width: 619, height: 986 }} />;
}
